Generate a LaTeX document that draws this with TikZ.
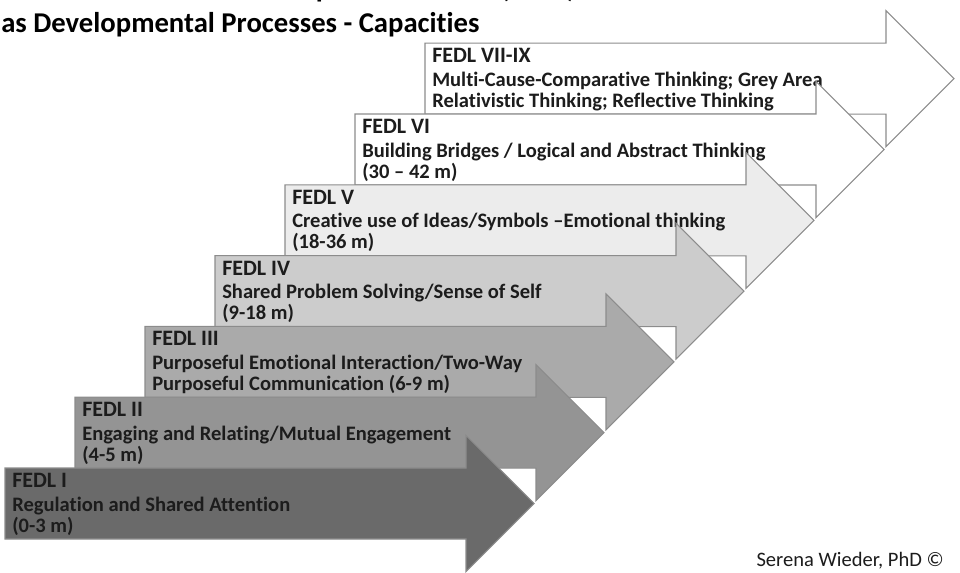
\documentclass[tikz,border=0pt]{standalone}
\usepackage{fontspec}
\setmainfont{Carlito}[Ligatures=CommonOff]
\usepackage{tikz}
\usetikzlibrary{positioning}
\definecolor{ink}{RGB}{28,28,28}
\definecolor{edge}{RGB}{140,140,140}
\definecolor{lvone}{RGB}{106,106,106}
\definecolor{lvtwo}{RGB}{148,148,148}
\definecolor{lvthree}{RGB}{170,170,170}
\definecolor{lvfour}{RGB}{204,204,204}
\definecolor{lvfive}{RGB}{236,236,236}
\definecolor{lvsix}{RGB}{255,255,255}
\definecolor{lvseven}{RGB}{255,255,255}
\tikzset{
  stage/.style    ={draw=edge, line width=0.8pt, line join=miter},
  stagetext/.style={anchor=north west, align=left, inner sep=0pt, text=ink,
                    font=\bfseries\fontsize{15.4}{15.75}\selectfont},
  headline/.style ={anchor=base west, inner sep=0pt, text=black,
                    font=\bfseries\fontsize{21.5}{25}\selectfont},
  credit/.style   ={anchor=base east, inner sep=0pt, text=ink,
                    font=\fontsize{15.4}{17}\selectfont},
}
\newcommand{\lvtitle}{\fontsize{16.5}{18}\selectfont}
% one block arrow per level: #1 step, #2 fill, #3 name, #4 title, #5 body
\newcommand{\fedlarrow}[5]{%
  \begin{scope}[shift={(5+70*#1,468-70.8*#1)}]
    \draw[stage, fill=#2] (0,0) -- (461,0) -- (461,-32.5) -- (529,35.5)
      -- (461,103.5) -- (461,71) -- (0,71) -- cycle;
    \node[stagetext] (#3) at (7,5) {{\lvtitle #4}\\[2pt]#5};
  \end{scope}}

\begin{document}
\begin{tikzpicture}[x=0.75pt, y=-0.75pt]
\clip (0,0) rectangle (960,573);

\node[headline, anchor=base east] (head1) at (576,-2) {Functional Emotional Developmental Levels (FEDL)};
\node[headline] (head2) at (1,33) {as Developmental Processes - Capacities};

% upper levels first, lower ones lie on top
\fedlarrow{6}{lvseven}{lvVII}{FEDL VII-IX}
  {Multi-Cause-Comparative Thinking; Grey Area\\Relativistic Thinking; Reflective Thinking}
\fedlarrow{5}{lvsix}{lvVI}{FEDL VI}
  {Building Bridges / Logical and Abstract Thinking\\(30 -- 42 m)}
\fedlarrow{4}{lvfive}{lvV}{FEDL V}
  {Creative use of Ideas/Symbols --Emotional thinking\\(18-36 m)}
\fedlarrow{3}{lvfour}{lvIV}{FEDL IV}
  {Shared Problem Solving/Sense of Self\\(9-18 m)}
\fedlarrow{2}{lvthree}{lvIII}{FEDL III}
  {Purposeful Emotional Interaction/Two-Way\\Purposeful Communication (6-9 m)}
\fedlarrow{1}{lvtwo}{lvII}{FEDL II}
  {Engaging and Relating/Mutual Engagement\\(4-5 m)}
\fedlarrow{0}{lvone}{lvI}{FEDL I}
  {Regulation and Shared Attention\\(0-3 m)}

\node[credit] (author) at (944,566) {Serena Wieder, PhD \textcopyright};
\end{tikzpicture}
\end{document}
